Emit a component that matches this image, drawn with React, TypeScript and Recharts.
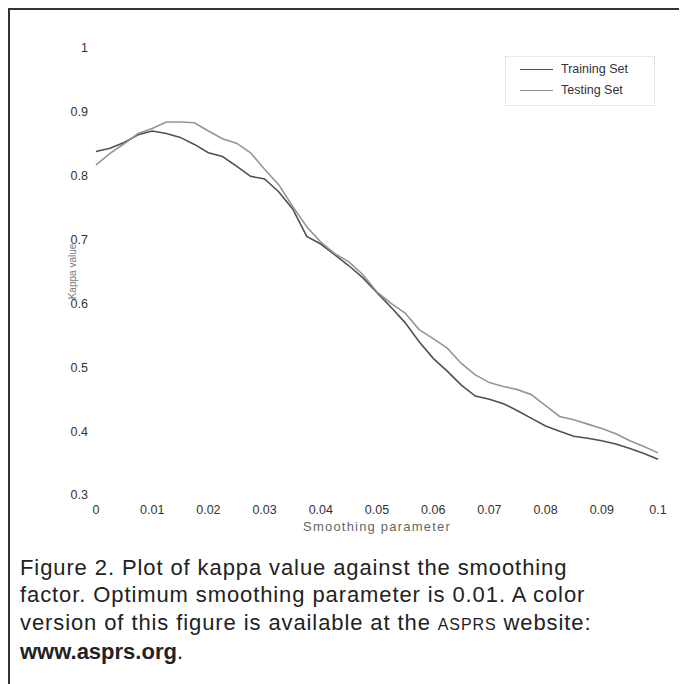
import { LineChart, Line, XAxis, YAxis } from 'recharts';

const smoothing = [
  0, 0.0025, 0.005, 0.0075, 0.01, 0.0125, 0.015, 0.0175, 0.02, 0.0225,
  0.025, 0.0275, 0.03, 0.0325, 0.035, 0.0375, 0.04, 0.0425, 0.045, 0.0475,
  0.05, 0.0525, 0.055, 0.0575, 0.06, 0.0625, 0.065, 0.0675, 0.07, 0.0725,
  0.075, 0.0775, 0.08, 0.0825, 0.085, 0.0875, 0.09, 0.0925, 0.095, 0.0975, 0.1,
];

const trainingSet = [
  0.838, 0.843, 0.852, 0.864, 0.87, 0.866, 0.86, 0.849, 0.836, 0.83,
  0.815, 0.799, 0.795, 0.775, 0.748, 0.705, 0.693, 0.676, 0.659, 0.64,
  0.617, 0.594, 0.57, 0.54, 0.514, 0.494, 0.472, 0.455, 0.45, 0.443,
  0.432, 0.42, 0.408, 0.4, 0.392, 0.389, 0.385, 0.38, 0.373, 0.365, 0.356,
];

const testingSet = [
  0.817, 0.835, 0.85, 0.866, 0.874, 0.884, 0.884, 0.883, 0.87, 0.858,
  0.851, 0.836, 0.81, 0.786, 0.752, 0.72, 0.696, 0.678, 0.665, 0.645,
  0.618, 0.6, 0.585, 0.559, 0.545, 0.53, 0.506, 0.488, 0.476, 0.47,
  0.465, 0.457, 0.44, 0.423, 0.418, 0.411, 0.404, 0.396, 0.385, 0.376, 0.366,
];

const xTicks = [0, 0.01, 0.02, 0.03, 0.04, 0.05, 0.06, 0.07, 0.08, 0.09, 0.1];
const yTicks = [0.3, 0.4, 0.5, 0.6, 0.7, 0.8, 0.9, 1];

const data = smoothing.map((s, i) => ({ s, training: trainingSet[i], testing: testingSet[i] }));

const TRAIN = '#505050';
const TEST = '#959595';
const font = '"Liberation Sans", Arial, sans-serif';

function fmtX(v: number) {
  if (v === 0) return '0';
  if (Math.abs(v - 0.1) < 1e-9) return '0.1';
  return v.toFixed(2);
}

function LegendBox() {
  const items = [
    { name: 'Training Set', color: TRAIN },
    { name: 'Testing Set', color: TEST },
  ];
  return (
    <div
      style={{
        position: 'absolute',
        left: 495,
        top: 46,
        width: 130,
        border: '1px dotted #d4d4d4',
        padding: '2px 4px 4px 14px',
        background: '#fff',
        fontFamily: font,
        fontSize: 12.5,
        color: '#333',
        lineHeight: '21px',
      }}
    >
      {items.map((it) => (
        <div key={it.name} style={{ display: 'flex', alignItems: 'center' }}>
          <span style={{ display: 'inline-block', width: 33, height: 0, borderTop: `1.5px solid ${it.color}`, marginRight: 8 }} />
          <span>{it.name}</span>
        </div>
      ))}
    </div>
  );
}

function KappaLabel(props: any) {
  const vb = props.viewBox || { x: 0, y: 0, height: 0 };
  const x = vb.x + 16;
  const y = vb.y + vb.height / 2;
  return (
    <text
      x={x}
      y={y}
      transform={`rotate(-90 ${x} ${y})`}
      textAnchor="middle"
      dominantBaseline="central"
      fill="#777"
      fontSize={10}
      fontFamily={font}
    >
      Kappa value
    </text>
  );
}

export default function App() {
  return (
    <div
      style={{
        position: 'relative',
        width: 677,
        height: 674,
        borderTop: '2px solid #333',
        borderLeft: '2px solid #333',
        background: '#fff',
        fontFamily: font,
      }}
    >
      <LineChart
        width={660}
        height={540}
        data={data}
        margin={{ top: 38, right: 12, left: 46, bottom: 0 }}
      >
        <XAxis
          dataKey="s"
          type="number"
          domain={[0, 0.1]}
          ticks={xTicks}
          tickFormatter={fmtX}
          axisLine={false}
          tickLine={false}
          tickMargin={4}
          height={55}
          interval={0}
          tick={{ fill: '#333', fontSize: 12.5, fontFamily: font }}
          label={{ value: 'Smoothing parameter', position: 'insideBottom', offset: 19, fill: '#666', fontSize: 13, letterSpacing: 1.2, fontFamily: font }}
        />
        <YAxis
          type="number"
          domain={[0.3, 1]}
          ticks={yTicks}
          width={40}
          interval={0}
          axisLine={{ stroke: '#cccccc', strokeDasharray: '1 7' }}
          tickLine={false}
          tickMargin={2}
          tick={{ fill: '#333', fontSize: 12.5, fontFamily: font }}
          label={<KappaLabel />}
        />
        <YAxis
          yAxisId="right"
          orientation="right"
          type="number"
          domain={[0.3, 1]}
          width={0}
          tick={false}
          tickLine={false}
          axisLine={{ stroke: '#cccccc', strokeDasharray: '1 7' }}
        />
        <Line
          dataKey="training"
          name="Training Set"
          stroke={TRAIN}
          strokeWidth={1.6}
          dot={false}
          isAnimationActive={false}
        />
        <Line
          dataKey="testing"
          name="Testing Set"
          stroke={TEST}
          strokeWidth={1.6}
          dot={false}
          isAnimationActive={false}
        />
      </LineChart>
      <LegendBox />
      <div
        style={{
          position: 'absolute',
          left: 10,
          top: 544,
          width: 665,
          fontFamily: font,
          fontSize: 22,
          letterSpacing: 0.9,
          lineHeight: '27.3px',
          color: '#222',
          whiteSpace: 'nowrap',
        }}
      >
        Figure 2. Plot of kappa value against the smoothing
        <br />
        factor. Optimum smoothing parameter is 0.01. A color
        <br />
        version of this figure is available at the <span style={{ fontSize: 16 }}>ASPRS</span> website:
        <br />
        <b style={{ letterSpacing: 0 }}>www.asprs.org</b>.
      </div>
    </div>
  );
}
